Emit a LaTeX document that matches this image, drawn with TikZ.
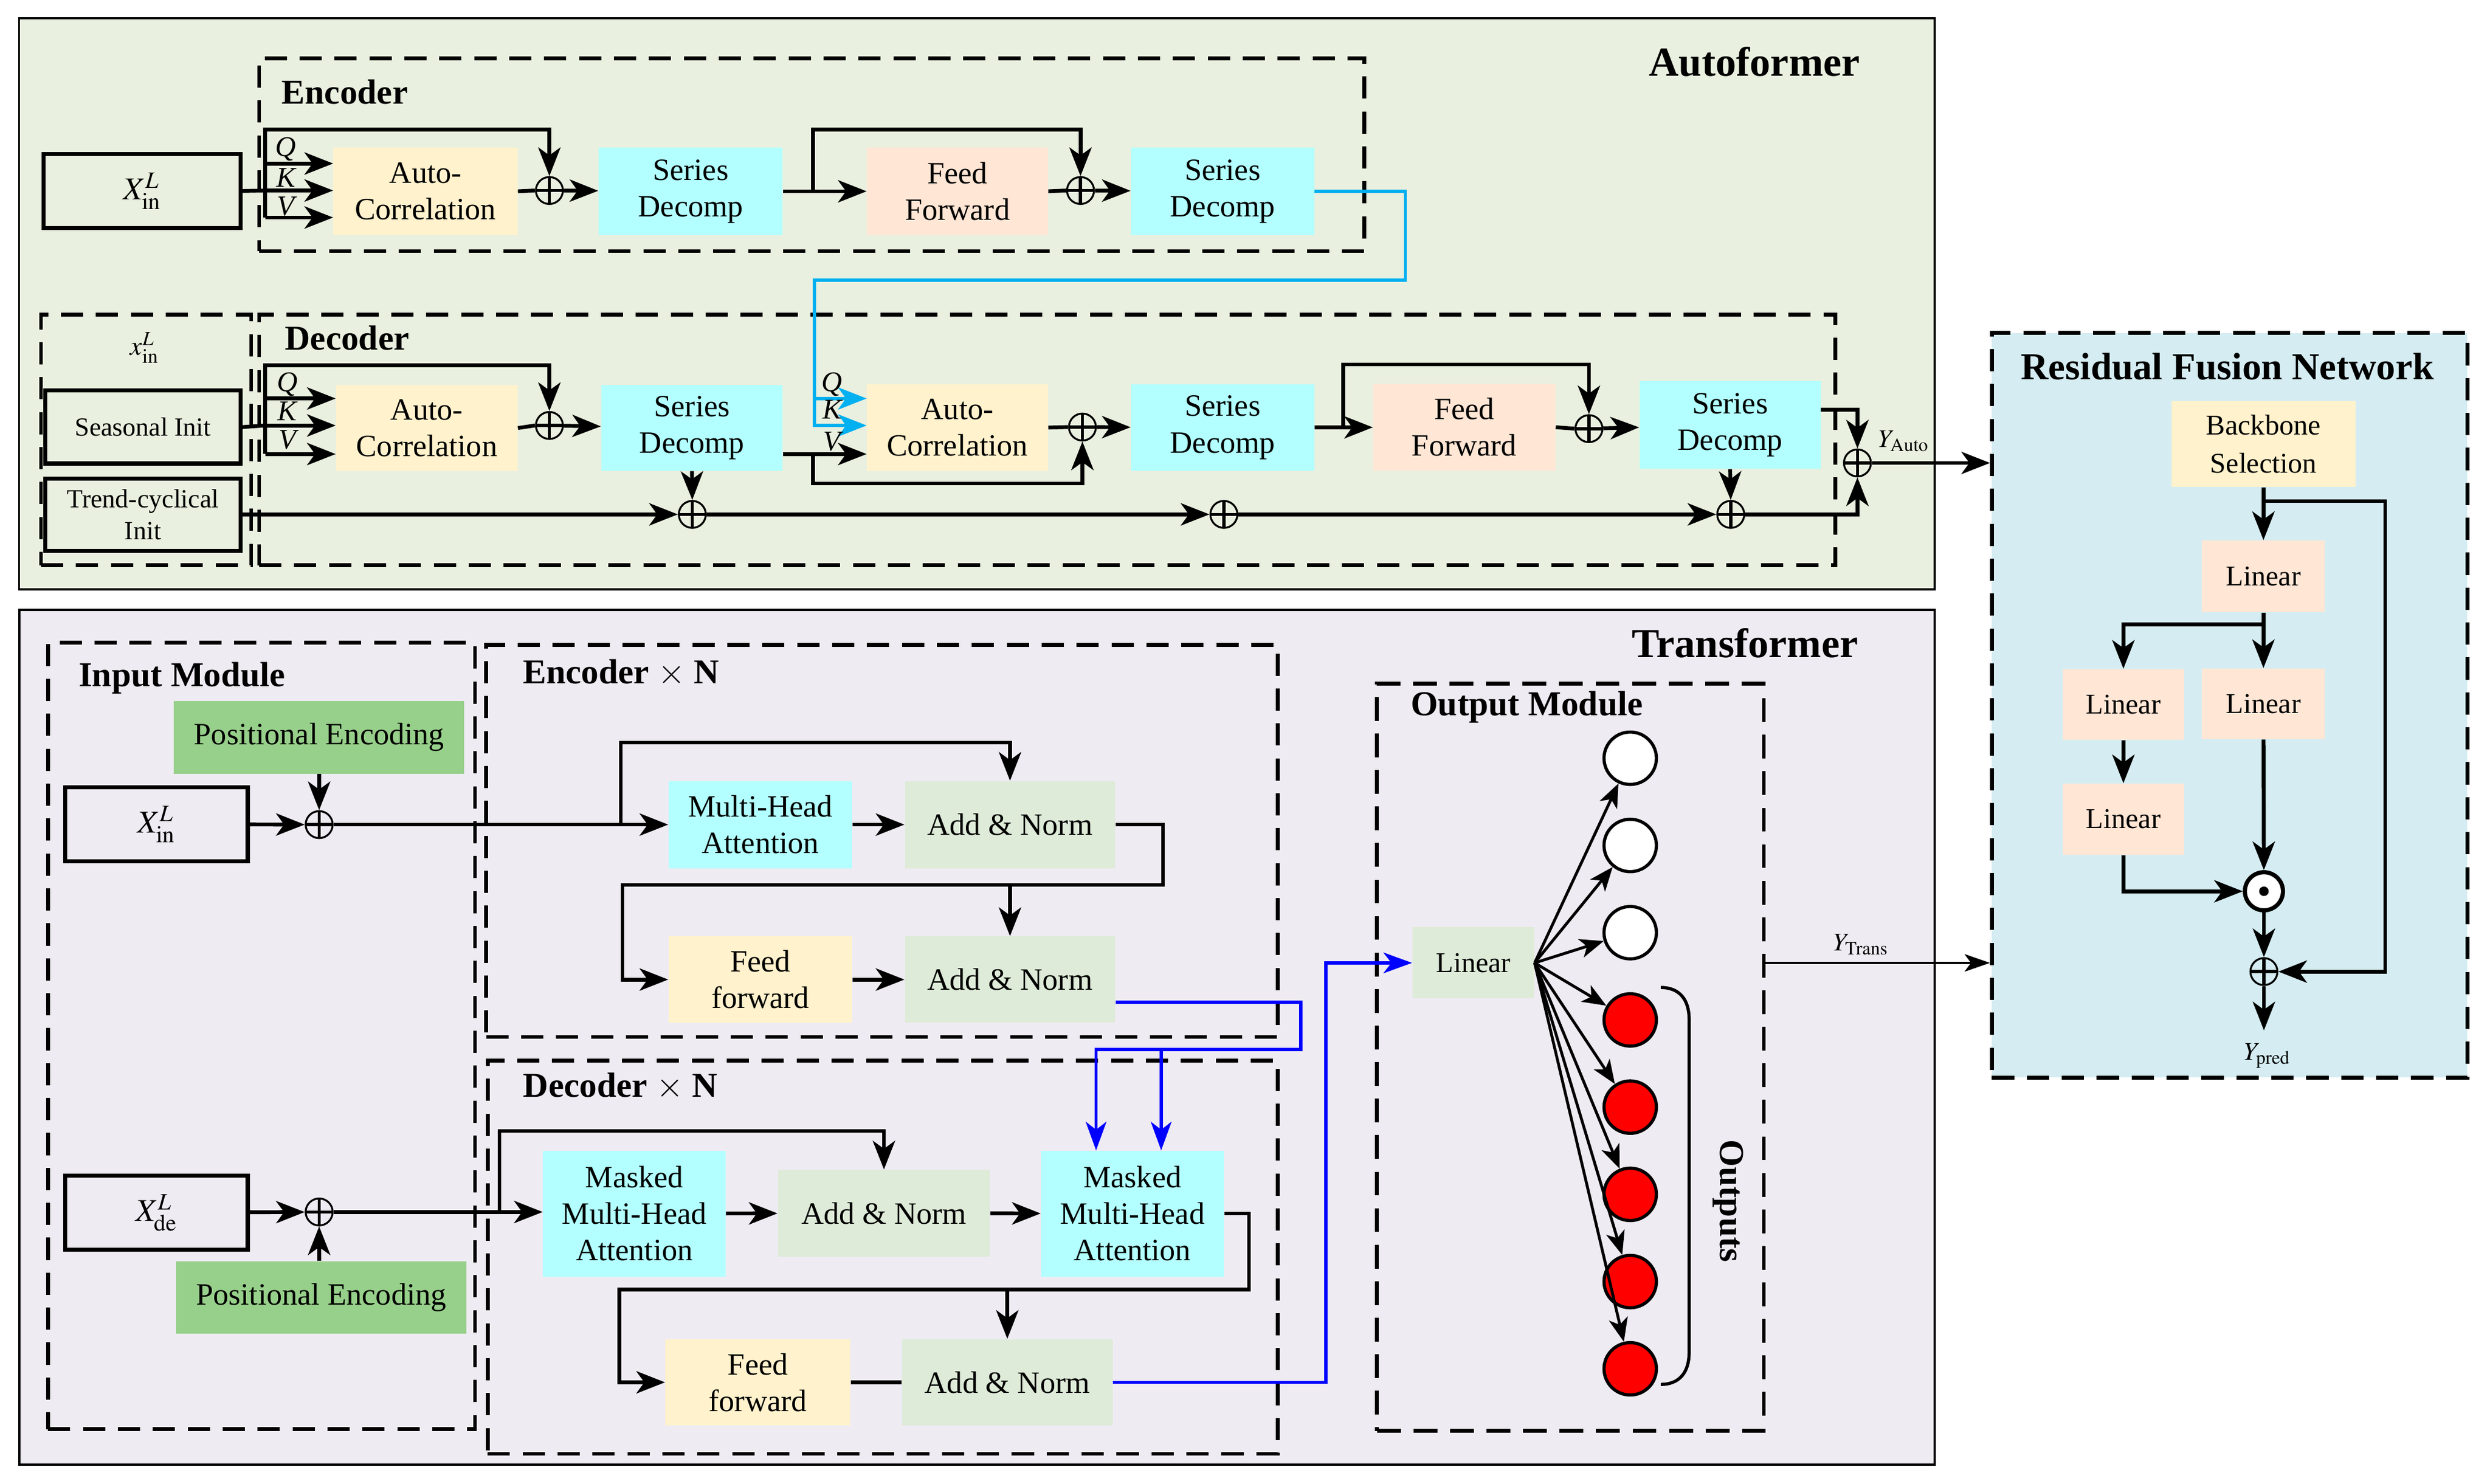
\documentclass[tikz,border=0pt]{standalone}
\usepackage{mathptmx}
\usepackage{fontspec}
\setmainfont{Liberation Serif}
\usetikzlibrary{arrows.meta}

\definecolor{afbg}{HTML}{E9F0DF}
\definecolor{trbg}{HTML}{EFEBF3}
\definecolor{rfbg}{HTML}{D5EDF2}
\definecolor{cyanfill}{HTML}{B3FFFF}
\definecolor{yelfill}{HTML}{FFF2CC}
\definecolor{peachfill}{HTML}{FFE6D5}
\definecolor{normfill}{HTML}{DEEBD8}
\definecolor{pegreen}{HTML}{97D08A}
\definecolor{skyline}{HTML}{00B0F0}
\definecolor{deepblue}{HTML}{0000FF}
\definecolor{outred}{HTML}{FF0000}

\tikzset{
  blk/.style 2 args={inner sep=0pt, align=center, minimum width=#1, minimum height=#2, font=\fontsize{19.5}{23}\selectfont},
  inputbox/.style 2 args={draw, line width=2.6pt, inner sep=0pt, align=center, minimum width=#1, minimum height=#2},
  dbox/.style 2 args={draw, line width=2.4pt, dash pattern=on 14pt off 8pt, anchor=north west, minimum width=#1, minimum height=#2},
  bgbox/.style 2 args={draw, line width=1.3pt, anchor=north west, minimum width=#1, minimum height=#2},
  sumnode/.style={circle, draw, line width=1.2pt, minimum size=17pt, inner sep=0pt,
    path picture={\draw[line width=2pt] (path picture bounding box.north) -- (path picture bounding box.south)
      (path picture bounding box.west) -- (path picture bounding box.east);}},
  prodnode/.style={circle, draw, fill=white, line width=2.6pt, minimum size=24pt, inner sep=0pt},
  outnode/.style={circle, draw, line width=2pt, minimum size=33pt, inner sep=0pt},
  ttl/.style={font=\fontsize{26}{30}\selectfont\bfseries},
  sub/.style={font=\fontsize{22}{26}\selectfont\bfseries, anchor=west},
  qkv/.style={font=\fontsize{18}{20}\selectfont\itshape},
  ymath/.style={font=\fontsize{16}{19}\selectfont},
  ln/.style={line width=2.4pt},
  arr/.style={line width=2.4pt, -{Stealth[length=18pt,width=14pt,inset=5pt]}},
  cyarr/.style={line width=2pt, draw=skyline, -{Stealth[length=18pt,width=14pt,inset=5pt]}},
  barr/.style={line width=2pt, draw=deepblue, -{Stealth[length=18pt,width=13pt,inset=5pt]}},
  fanarr/.style={line width=1.8pt, -{Stealth[length=15pt,width=12pt,inset=4pt]}},
}

\begin{document}
\begin{tikzpicture}[x=1pt, y=-1pt, line join=miter]
\useasboundingbox (0,0) rectangle (1568.2,934.4);

% backgrounds
\node[bgbox={1206.3pt}{359.8pt}, fill=afbg] (afbox) at (11.4,10.8) {};
\node[bgbox={1206.1pt}{538.2pt}, fill=trbg] (trbox) at (11.6,383.6) {};
\node[dbox={299.4pt}{469pt}, fill=rfbg] (rfn) at (1253.3,208.5) {};

\node[ttl] at (1105,39) {Autoformer};
\node[ttl] at (1099,405) {Transformer};
\node[font=\fontsize{24}{28}\selectfont\bfseries] at (1402.8,231) {Residual Fusion Network};

% Autoformer encoder
\node[dbox={696pt}{121.5pt}] (encbox) at (162,35.5) {};
\node[sub] at (174,58) {Encoder};
\node[inputbox={124pt}{46.6pt}] (xin) at (89.5,120.3) {\fontsize{20}{24}\selectfont $X_{\mathrm{in}}^{L}$};
\node[blk={116pt}{55pt}, fill=yelfill] (eac) at (268,120.5) {Auto-\\Correlation};
\node[sumnode] (esum1) at (346,120) {};
\node[blk={116pt}{55pt}, fill=cyanfill] (esd1) at (435,120.5) {Series\\Decomp};
\node[blk={114pt}{55pt}, fill=peachfill] (eff) at (603,120.5) {Feed\\Forward};
\node[sumnode] (esum2) at (680.5,120) {};
\node[blk={115.5pt}{55pt}, fill=cyanfill] (esd2) at (770,120.5) {Series\\Decomp};

\coordinate (etop) at (167,81.7);
\coordinate (eq) at (167,103);
\coordinate (ek) at (167,120);
\coordinate (ev) at (167,137);
\draw[ln] (xin.east) -- (ek);
\draw[arr] (ev) -- (etop) -| (esum1.north);
\draw[arr] (eq) -- (eq -| eac.west);
\draw[arr] (ek) -- (ek -| eac.west);
\draw[arr] (ev) -- (ev -| eac.west);
\node[qkv] at (180,94) {Q};
\node[qkv] at (180,112) {K};
\node[qkv] at (180,130) {V};
\draw[ln] (eac.east) -- (esum1.west);
\draw[arr] (esum1) -- (esd1);
\draw[arr] (esd1) -- (eff);
\coordinate (eskip) at (512,120.5);
\draw[arr] (eskip) -- (eskip |- etop) -| (esum2.north);
\draw[ln] (eff.east) -- (esum2.west);
\draw[arr] (esum2) -- (esd2);

% Autoformer decoder
\node[dbox={132.4pt}{157.8pt}] (initbox) at (24.6,197) {};
\node[dbox={992.7pt}{157.8pt}] (decbox) at (162,197) {};
\node[sub] at (176,213) {Decoder};
\node[font=\fontsize{17}{20}\selectfont] at (91,219) {$x_{\mathrm{in}}^{L}$};
\node[inputbox={123pt}{46pt}, font=\fontsize{16.5}{20}\selectfont] (sinit) at (90,269) {Seasonal Init};
\node[inputbox={123pt}{45.5pt}, font=\fontsize{16.5}{20}\selectfont] (tinit) at (90,324.3) {Trend-cyclical\\Init};
\node[blk={114.4pt}{54pt}, fill=yelfill] (dac1) at (268.8,269.6) {Auto-\\Correlation};
\node[sumnode] (dsum1) at (346,268) {};
\node[blk={114.4pt}{54pt}, fill=cyanfill] (dsd1) at (435.8,269.6) {Series\\Decomp};
\node[blk={114pt}{54.6pt}, fill=yelfill] (dac2) at (603,269.3) {Auto-\\Correlation};
\node[sumnode] (dsum2) at (681.7,269) {};
\node[blk={115.5pt}{54.6pt}, fill=cyanfill] (dsd2) at (770,269.3) {Series\\Decomp};
\node[blk={114.8pt}{55pt}, fill=peachfill] (dff) at (922.2,269.1) {Feed\\Forward};
\node[sumnode] (dsum3) at (1000.7,270) {};
\node[blk={114.2pt}{55.3pt}, fill=cyanfill] (dsd3) at (1089.6,267.7) {Series\\Decomp};
\node[sumnode] (tsum1) at (436,324) {};
\node[sumnode] (tsum2) at (770.8,324) {};
\node[sumnode] (tsum3) at (1090,324) {};
\node[sumnode] (fsum) at (1169.8,291.6) {};

\coordinate (dtop) at (167,230);
\coordinate (dq) at (167,251);
\coordinate (dk) at (167,268);
\coordinate (dv) at (167,286);
\draw[ln] (sinit.east) -- (dk);
\draw[arr] (dv) -- (dtop) -| (dsum1.north);
\draw[arr] (dq) -- (dq -| dac1.west);
\draw[arr] (dk) -- (dk -| dac1.west);
\draw[arr] (dv) -- (dv -| dac1.west);
\node[qkv] at (181,242) {Q};
\node[qkv] at (181,259) {K};
\node[qkv] at (181,277) {V};
\draw[ln] (dac1.east) -- (dsum1.west);
\draw[arr] (dsum1) -- (dsd1);
\draw[arr] (dsd1.south) -- (tsum1.north);

% cross link encoder -> decoder
\coordinate (cyturn) at (885,176.5);
\coordinate (cq) at (513,251);
\coordinate (ck) at (513,268);
\coordinate (cv) at (512,286);
\draw[cyarr] (esd2.east) -| (cyturn) -| (ck) -- (ck -| dac2.west);
\draw[cyarr] (cq) -- (cq -| dac2.west);
\draw[arr] (cv -| dsd1.east) -- (cv -| dac2.west);
\draw[arr] (cv) -- ++(0,18.5) -| (dsum2.south);
\node[qkv] at (524,242) {Q};
\node[qkv] at (524,258) {K};
\node[qkv] at (524,278) {V};
\draw[ln] (dac2.east) -- (dsum2.west);
\draw[arr] (dsum2) -- (dsd2);
\draw[arr] (dsd2) -- (dff);
\coordinate (dskip) at (846,269.3);
\draw[arr] (dskip) -- ++(0,-39.7) -| (dsum3.north);
\draw[ln] (dff.east) -- (dsum3.west);
\draw[arr] (dsum3) -- (dsd3);
\draw[arr] (dsd3.south) -- (tsum3.north);
\draw[arr] (tinit.east |- tsum1) -- (tsum1.west);
\draw[arr] (tsum1) -- (tsum2);
\draw[arr] (tsum2) -- (tsum3);
\draw[arr] ([yshift=9.7pt]dsd3.east) -| (fsum.north);
\draw[arr] (tsum3.east) -| (fsum.south);
\draw[arr] (fsum.east) -- (fsum -| rfn.west);
\node[ymath] at (1199,278) {$Y_{\mathrm{Auto}}$};

% Transformer input module
\node[dbox={269pt}{495.3pt}] (inbox) at (29,403.7) {};
\node[sub] at (46,427) {Input Module};
\node[blk={183pt}{45.7pt}, fill=pegreen] (pe1) at (201,464.5) {Positional Encoding};
\node[inputbox={115pt}{46.5pt}] (xin2) at (98.5,519.2) {\fontsize{20}{24}\selectfont $X_{\mathrm{in}}^{L}$};
\node[sumnode] (tsumE) at (201,519.4) {};
\node[inputbox={115pt}{46.5pt}] (xde) at (98.5,763.8) {\fontsize{20}{24}\selectfont $X_{\mathrm{de}}^{L}$};
\node[sumnode] (tsumD) at (201,763.4) {};
\node[blk={182.6pt}{45.8pt}, fill=pegreen] (pe2) at (202.3,817.3) {Positional Encoding};
\draw[arr] (xin2) -- (tsumE);
\draw[arr] (pe1) -- (tsumE);
\draw[arr] (xde) -- (tsumD);
\draw[arr] (pe2.north -| tsumD) -- (tsumD);

% Transformer encoder
\node[dbox={498.4pt}{247pt}] (tencbox) at (305,405) {};
\node[sub] at (326,424) {Encoder $\times$ N};
\node[blk={115.7pt}{54.9pt}, fill=cyanfill] (mha) at (478.9,519.4) {Multi-Head\\Attention};
\node[blk={132.6pt}{54.9pt}, fill=normfill] (an1) at (636.1,519.4) {Add \& Norm};
\node[blk={115.7pt}{54.4pt}, fill=yelfill] (ffE) at (478.9,617) {Feed\\forward};
\node[blk={132.6pt}{54.4pt}, fill=normfill] (an2) at (636.1,617) {Add \& Norm};
\draw[arr] (tsumE) -- (mha);
\coordinate (tsk1) at (391,519.4);
\draw[arr] (tsk1) -- ++(0,-51.7) -| (an1.north);
\draw[arr] (mha) -- (an1);
\coordinate (ewrap) at (732.4,557.4);
\coordinate (ewrapL) at (392,557.4);
\draw[arr] (an1.east) -| (ewrap) -- (ewrapL) |- (ffE.west);
\draw[arr] (ewrap -| an2.north) -- (an2.north);
\draw[arr] (ffE) -- (an2);

% Transformer decoder
\node[dbox={497.4pt}{247.7pt}] (tdecbox) at (306,666.8) {};
\node[sub] at (326,684.3) {Decoder $\times$ N};
\node[blk={115pt}{79.2pt}, fill=cyanfill] (mmha1) at (399.5,764.4) {Masked\\Multi-Head\\Attention};
\node[blk={133.7pt}{54.8pt}, fill=normfill] (and1) at (556.7,764.2) {Add \& Norm};
\node[blk={115.2pt}{79.2pt}, fill=cyanfill] (mmha2) at (713.2,764.4) {Masked\\Multi-Head\\Attention};
\node[blk={116.6pt}{54.4pt}, fill=yelfill] (ffD) at (477.3,870.7) {Feed\\forward};
\node[blk={132.8pt}{54.4pt}, fill=normfill] (and2) at (634.4,870.7) {Add \& Norm};
\draw[arr] (tsumD) -- (tsumD -| mmha1.west);
\coordinate (tsk2) at (314.6,763.4);
\draw[arr] (tsk2) -- ++(0,-51.1) -| (and1.north);
\draw[arr] (mmha1) -- (and1);
\draw[arr] (and1) -- (mmha2);
\coordinate (dwrap) at (786.6,812.3);
\coordinate (dwrapL) at (390,812.3);
\draw[arr] (mmha2.east) -| (dwrap) -- (dwrapL) |- (ffD.west);
\draw[arr] (dwrap -| and2.north) -- (and2.north);
\draw[ln] (ffD) -- (and2);

% encoder memory into decoder
\coordinate (bturn) at (819.2,661);
\draw[barr] ([yshift=-14.3pt]an2.east) -| (bturn) -| ([xshift=-22.9pt]mmha2.north);
\draw[barr] ([xshift=18.1pt]mmha2.north |- bturn) -- ([xshift=18.1pt]mmha2.north);

% output module
\node[dbox={243.6pt}{470.5pt}, dash pattern=on 15pt off 8pt] (omod) at (866,429.5) {};
\node[sub] at (885,445.3) {Output Module};
\node[blk={76.8pt}{44.9pt}, fill=normfill, font=\fontsize{18}{22}\selectfont] (lin) at (927.9,606.5) {Linear};
\coordinate (bturn2) at (835,870.7);
\draw[barr] (and2.east) -- (bturn2) |- (lin.west);
\foreach \i/\c in {1/white,2/white,3/white,4/outred,5/outred,6/outred,7/outred,8/outred}
  \node[outnode, fill=\c] (o\i) at (1026.7,{477.6+54.94*(\i-1)}) {};
\foreach \i in {1,...,8}
  \draw[fanarr] (lin.east) -- (o\i);
\draw[line width=2pt] (1046,622) .. controls (1058,622) and (1063.8,630) .. (1063.8,642) -- (1063.8,852)
  .. controls (1063.8,864) and (1058,872) .. (1046,872);
\node[font=\fontsize{22}{26}\selectfont\bfseries, rotate=-90] at (1088.5,756.5) {Outputs};
\draw[line width=1.4pt, -{Stealth[length=16pt,width=11pt,inset=4pt]}] (omod.east |- lin) -- (rfn.west |- lin);
\node[ymath] at (1172,595) {$Y_{\mathrm{Trans}}$};

% residual fusion network
\node[blk={116pt}{54.4pt}, fill=yelfill, font=\fontsize{18}{24}\selectfont] (bb) at (1425.5,279.6) {Backbone\\Selection};
\node[blk={77.4pt}{45.2pt}, fill=peachfill, font=\fontsize{18}{22}\selectfont] (l1) at (1425.5,363) {Linear};
\node[blk={76.5pt}{44.6pt}, fill=peachfill, font=\fontsize{18}{22}\selectfont] (l2) at (1337.3,443.7) {Linear};
\node[blk={77.4pt}{44.6pt}, fill=peachfill, font=\fontsize{18}{22}\selectfont] (l3) at (1425.5,443.3) {Linear};
\node[blk={76.5pt}{44.9pt}, fill=peachfill, font=\fontsize{18}{22}\selectfont] (l4) at (1337.3,516) {Linear};
\node[prodnode] (prod) at (1425.8,561.4) {};
\fill (prod.center) circle (3pt);
\node[sumnode] (rsum) at (1425.8,612) {};
\coordinate (ypred) at (1425.8,649);
\draw[arr] (bb) -- (l1);
\coordinate (rtap) at (1425.8,315.6);
\draw[arr] (rtap) -- ++(76.4,0) |- (rsum.east);
\coordinate (lsplit) at (1425.8,393.3);
\draw[arr] (l1) -- (l3);
\draw[arr] (lsplit) -| (l2.north);
\draw[arr] (l2) -- (l4);
\draw[arr] (l3) -- (prod);
\draw[arr] (l4.south) |- (prod.west);
\draw[arr] (prod) -- (rsum);
\draw[arr] (rsum.south) -- (ypred);
\node[ymath] at (1428,665) {$Y_{\mathrm{pred}}$};
\end{tikzpicture}
\end{document}
